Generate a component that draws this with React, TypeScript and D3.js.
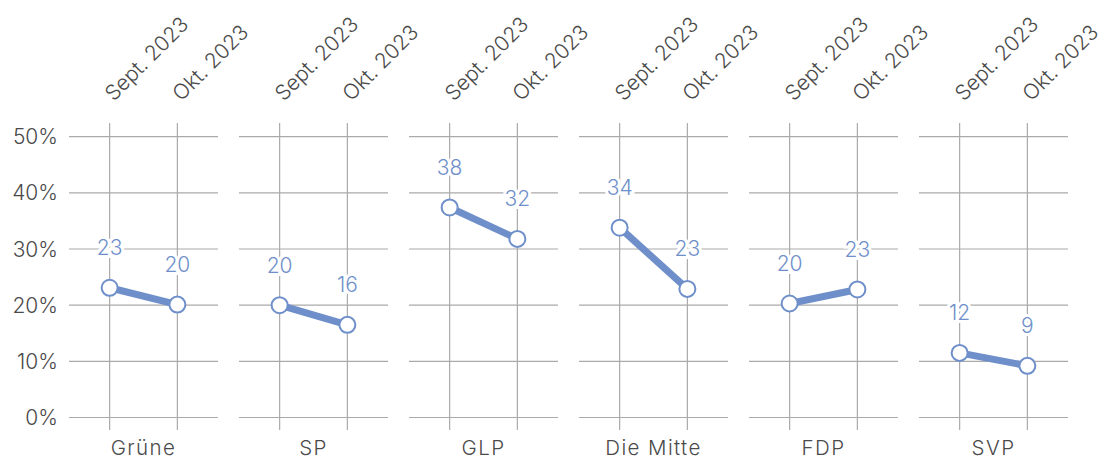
import React, { useEffect, useRef } from 'react';
import * as d3 from 'd3';

const parties = ['Grüne', 'SP', 'GLP', 'Die Mitte', 'FDP', 'SVP'];
const months = ['Sept. 2023', 'Okt. 2023'];
const septValues = [23.1, 20.0, 37.4, 33.8, 20.3, 11.5];
const oktValues = [20.1, 16.5, 31.8, 22.9, 22.8, 9.2];
const septLabels = ['23', '20', '38', '34', '20', '12'];
const oktLabels = ['20', '16', '32', '23', '23', '9'];
const yTicks = [0, 10, 20, 30, 40, 50];

const BLUE = '#6f8fca';
const GRID = '#aaaaaa';
const TEXT = '#4a4a4a';
const FONT = 'Inter, "Liberation Sans", sans-serif';

const App = () => {
    const ref = useRef<SVGSVGElement | null>(null);

    useEffect(() => {
        if (!ref.current) return;
        const svg = d3.select(ref.current);
        svg.selectAll('*').remove();

        const left = 69;
        const panelW = 149;
        const gap = 21;
        const top = 123;
        const bottom = 430;

        const y = d3.scaleLinear().domain([0, 50]).range([417.5, 136.7]);
        const panelX = d3.scaleBand<string>()
            .domain(parties)
            .range([left, left + parties.length * panelW + (parties.length - 1) * gap])
            .paddingInner(gap / (panelW + gap))
            .paddingOuter(0);
        const x = d3.scalePoint<string>().domain(months).range([0, panelW]).padding(0.6);

        // y axis labels
        svg.append('g')
            .selectAll('text')
            .data(yTicks)
            .enter()
            .append('text')
            .attr('x', 58)
            .attr('y', d => y(d))
            .attr('dy', '0.36em')
            .attr('text-anchor', 'end')
            .attr('fill', TEXT)
            .style('font-size', '21px')
            .style('font-weight', '300')
            .style('font-family', FONT)
            .text(d => `${d}%`);

        parties.forEach((party, i) => {
            const g = svg.append('g').attr('transform', `translate(${panelX(party)},0)`);

            // horizontal grid
            g.selectAll('line.h')
                .data(yTicks)
                .enter()
                .append('line')
                .attr('x1', 0)
                .attr('x2', panelW)
                .attr('y1', d => y(d))
                .attr('y2', d => y(d))
                .attr('stroke', GRID)
                .attr('stroke-width', 1.2);

            // vertical lines
            g.selectAll('line.v')
                .data(months)
                .enter()
                .append('line')
                .attr('x1', d => x(d)!)
                .attr('x2', d => x(d)!)
                .attr('y1', top)
                .attr('y2', bottom)
                .attr('stroke', GRID)
                .attr('stroke-width', 1.2);

            // rotated month labels
            g.selectAll('text.m')
                .data(months)
                .enter()
                .append('text')
                .attr('transform', d => `translate(${x(d)! + 4},102) rotate(-45)`)
                .attr('fill', TEXT)
                .style('font-size', '21px')
                .style('font-weight', '300')
                .style('font-family', FONT)
                .text(d => d);

            const pts = [
                { m: months[0], v: septValues[i], l: septLabels[i] },
                { m: months[1], v: oktValues[i], l: oktLabels[i] },
            ];

            // connecting line
            g.append('path')
                .attr('d', d3.line<any>().x(d => x(d.m)!).y(d => y(d.v))(pts))
                .attr('stroke', BLUE)
                .attr('stroke-width', 7)
                .attr('fill', 'none');

            // points
            g.selectAll('circle')
                .data(pts)
                .enter()
                .append('circle')
                .attr('cx', d => x(d.m)!)
                .attr('cy', d => y(d.v))
                .attr('r', 8)
                .attr('fill', 'white')
                .attr('stroke', BLUE)
                .attr('stroke-width', 2);

            // value labels
            g.selectAll('text.v')
                .data(pts)
                .enter()
                .append('text')
                .attr('x', d => x(d.m)!)
                .attr('y', d => y(d.v) - 40)
                .attr('dy', '0.36em')
                .attr('text-anchor', 'middle')
                .attr('fill', BLUE)
                .attr('stroke', 'white')
                .attr('stroke-width', 6)
                .attr('paint-order', 'stroke')
                .style('font-size', '21px')
                .style('font-weight', '300')
                .style('font-family', FONT)
                .text(d => d.l);

            // party label
            g.append('text')
                .attr('x', panelW / 2)
                .attr('y', 455)
                .attr('text-anchor', 'middle')
                .attr('fill', TEXT)
                .style('font-size', '20.5px')
                .style('font-weight', '300')
                .style('letter-spacing', '1.4px')
                .style('font-family', FONT)
                .text(party);
        });
    }, []);

    return (
        <svg
            ref={ref}
            width={1106}
            height={459}
            style={{ position: 'absolute', left: 0, top: 0, background: 'white' }}
        />
    );
};

export default App;
